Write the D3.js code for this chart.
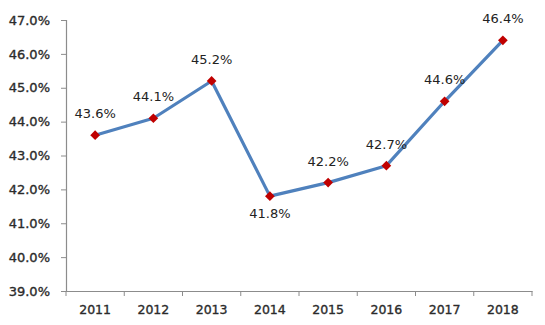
<!DOCTYPE html>
<html>
<head>
<meta charset="utf-8">
<script src="https://cdn.jsdelivr.net/npm/d3@7"></script>
<style>
  html, body { margin: 0; padding: 0; background: #fff; }
  svg { display: block; }
</style>
</head>
<body>
<svg id="chart" width="545" height="325"></svg>
<script>
// Yearly share, in percent
const years = ["2011", "2012", "2013", "2014", "2015", "2016", "2017", "2018"];
const shares = [43.6, 44.1, 45.2, 41.8, 42.2, 42.7, 44.6, 46.4];
// Labels that sit under their point instead of above it
const labelBelow = ["2014"];
const yTicks = [39, 40, 41, 42, 43, 44, 45, 46, 47];

const svg = d3.select("#chart");
const margin = { left: 66, right: 13, top: 20, bottom: 34 };
const W = 545, H = 325;

const x = d3.scaleBand()
  .domain(years)
  .range([margin.left, W - margin.right]);

const y = d3.scaleLinear()
  .domain([39, 47])
  .range([H - margin.bottom, margin.top]);

const axisColor = "#8c8c8c";
const textColor = "#2b2b2b";
const font = "DejaVu Sans, Verdana, sans-serif";

// Axis text: regular weight with a faint outline for a slightly heavier look
function styleAxisText(sel, size) {
  sel.attr("font-family", font).attr("font-size", size)
    .attr("fill", textColor)
    .attr("stroke", textColor).attr("stroke-width", 0.35);
}

// Y axis
const yAxis = svg.append("g")
  .attr("transform", `translate(${margin.left},0)`)
  .call(d3.axisLeft(y).tickValues(yTicks).tickSize(5).tickPadding(11)
    .tickFormat(d => d.toFixed(1) + "%"));
yAxis.select(".domain").attr("stroke", axisColor).attr("stroke-width", 1.2);
yAxis.selectAll(".tick line").attr("stroke", axisColor);
styleAxisText(yAxis.selectAll("text"), 13);

// X axis with ticks at category boundaries
const xAxis = svg.append("g")
  .attr("transform", `translate(0,${y(39)})`)
  .call(d3.axisBottom(x).tickSize(0).tickPadding(14));
xAxis.select(".domain").attr("stroke", axisColor).attr("stroke-width", 1.2);
styleAxisText(xAxis.selectAll("text"), 12.5);
const bounds = years.map(d => x(d)).concat([x(years[years.length - 1]) + x.bandwidth()]);
xAxis.selectAll("line.bound")
  .data(bounds)
  .join("line")
  .attr("class", "bound")
  .attr("x1", d => d).attr("x2", d => d)
  .attr("y1", 0).attr("y2", 5)
  .attr("stroke", axisColor);

const cx = d => x(d) + x.bandwidth() / 2;
const data = years.map((yr, i) => ({ yr, v: shares[i] }));

// Line
svg.append("path")
  .datum(data)
  .attr("fill", "none")
  .attr("stroke", "#4f81bd")
  .attr("stroke-width", 3.2)
  .attr("stroke-linejoin", "round")
  .attr("d", d3.line().x(d => cx(d.yr)).y(d => y(d.v)));

// Diamond markers
const diamond = d3.symbol().type(d3.symbolDiamond2).size(60);
svg.selectAll("path.marker")
  .data(data)
  .join("path")
  .attr("class", "marker")
  .attr("transform", d => `translate(${cx(d.yr)},${y(d.v)})`)
  .attr("d", diamond)
  .attr("fill", "#c00000");

// Value labels
svg.selectAll("text.value")
  .data(data)
  .join("text")
  .attr("class", "value")
  .attr("x", d => cx(d.yr))
  .attr("y", d => labelBelow.includes(d.yr) ? y(d.v) + 22 : y(d.v) - 17)
  .attr("text-anchor", "middle")
  .attr("font-family", font)
  .attr("font-size", 13)
  .attr("fill", "#222")
  .text(d => d.v.toFixed(1) + "%");
</script>
</body>
</html>
